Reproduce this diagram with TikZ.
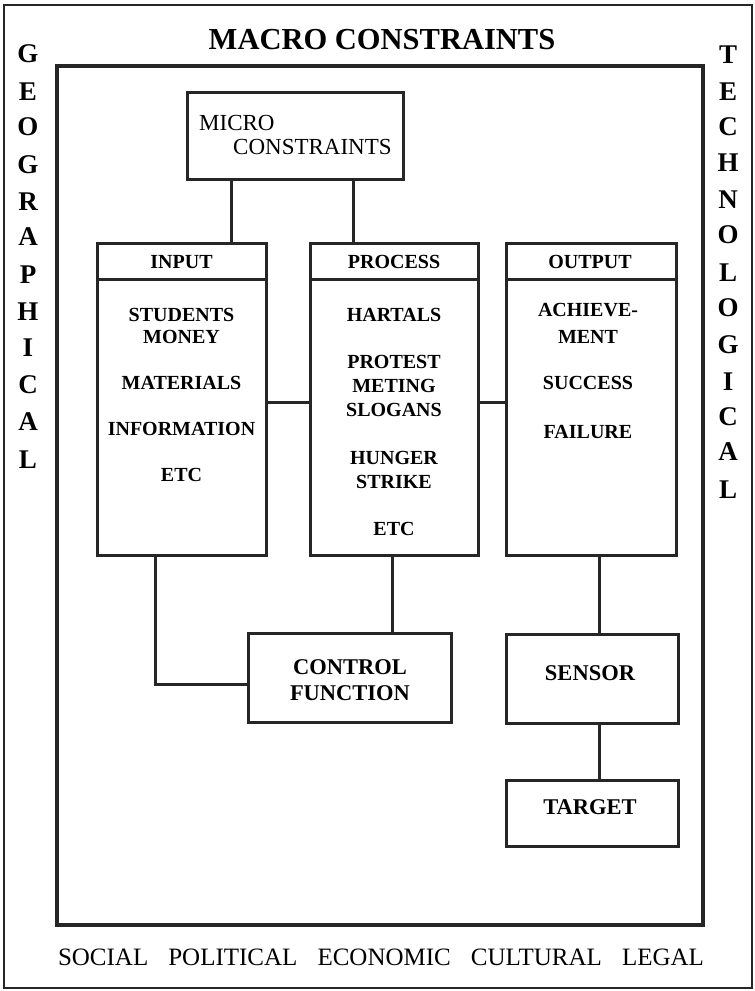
\documentclass[tikz,border=0pt]{standalone}
\usepackage{fontspec}
\setmainfont{Liberation Serif}
\begin{document}
\begin{tikzpicture}[x=1pt,y=-1pt,
  frame/.style={draw=black!85,line width=3pt},
  boxn/.style={draw=black!85,line width=3pt,rectangle,inner sep=0pt},
  conn/.style={draw=black!85,line width=3pt},
  bodytxt/.style={inner sep=0pt,font=\fontsize{20}{22}\selectfont\bfseries,text height=13.2pt,text depth=0pt},
  bigtxt/.style={inner sep=0pt,font=\fontsize{22.5}{24}\selectfont\bfseries,text height=15pt,text depth=0pt},
  microtxt/.style={inner sep=0pt,anchor=west,font=\fontsize{23}{25}\selectfont,text height=15.2pt,text depth=0pt},
  sidetxt/.style={inner sep=0pt,font=\fontsize{27}{29}\selectfont\bfseries,text height=17.9pt,text depth=0pt},
]
\useasboundingbox (0,0) rectangle (755,991);
\fill[white] (0,0) rectangle (755,991);
% frames
\draw[draw=black!85,line width=2.5pt] (4,5) rectangle (752,988);
\draw[frame,line width=3.5pt] (57,66) rectangle (703,925);
% title and bottom
\node[inner sep=0pt,font=\fontsize{30.5}{33}\selectfont\bfseries,text height=20.2pt,text depth=0pt] (macro) at (382,39) {MACRO CONSTRAINTS};
\node[inner sep=0pt,font=\fontsize{25}{27}\selectfont,text height=16.5pt,text depth=0pt] (bottom) at (381,957) {\makebox[646pt][s]{SOCIAL POLITICAL ECONOMIC CULTURAL LEGAL}};
% side letters
\foreach \l/\y [count=\i] in {G/54,E/92,O/127,G/165,R/202,A/237,P/275,H/312,I/348,C/385,A/422,L/460}
  \node[sidetxt] (geo\i) at (28,\y) {\l};
\foreach \l/\y [count=\i] in {T/55,E/92,C/127,H/163,N/200,O/235,L/273,O/308,G/345,I/382,C/417,A/452,L/490}
  \node[sidetxt] (tech\i) at (728,\y) {\l};
% micro constraints
\node[boxn,minimum width=216pt,minimum height=87pt] (micro) at (295,135.5) {};
\node[microtxt] (microa) at (199,122.5) {MICRO};
\node[microtxt] (microb) at (233,146.5) {CONSTRAINTS};
% columns
\node[boxn,minimum width=169pt,minimum height=36pt] (inhead) at (181.5,261) {};
\node[boxn,minimum width=169pt,minimum height=276pt] (inbody) at (181.5,417) {};
\node[boxn,minimum width=168pt,minimum height=36pt] (prochead) at (394,261) {};
\node[boxn,minimum width=168pt,minimum height=276pt] (procbody) at (394,417) {};
\node[boxn,minimum width=170pt,minimum height=36pt] (outhead) at (591,261) {};
\node[boxn,minimum width=170pt,minimum height=276pt] (outbody) at (591,417) {};
% lower boxes
\node[boxn,minimum width=203pt,minimum height=89pt] (ctrl) at (349.5,677.5) {};
\node[boxn,minimum width=172pt,minimum height=89pt] (sensor) at (592,678.5) {};
\node[boxn,minimum width=172pt,minimum height=66pt] (target) at (592,813) {};
% texts
\node[bodytxt] (t1) at (181.5,262) {INPUT};
\node[bodytxt] (t2) at (181.5,315) {STUDENTS};
\node[bodytxt] (t3) at (181.5,337) {MONEY};
\node[bodytxt] (t4) at (181.5,383) {MATERIALS};
\node[bodytxt] (t5) at (181.5,429) {INFORMATION};
\node[bodytxt] (t6) at (181.5,475) {ETC};
\node[bodytxt] (p1) at (394,262) {PROCESS};
\node[bodytxt] (p2) at (394,315) {HARTALS};
\node[bodytxt] (p3) at (394,362) {PROTEST};
\node[bodytxt] (p4) at (394,386) {METING};
\node[bodytxt] (p5) at (394,410) {SLOGANS};
\node[bodytxt] (p6) at (394,458) {HUNGER};
\node[bodytxt] (p7) at (394,482) {STRIKE};
\node[bodytxt] (p8) at (394,529) {ETC};
\node[bodytxt] (o1) at (590,262) {OUTPUT};
\node[bodytxt] (o2) at (588,310) {ACHIEVE-};
\node[bodytxt] (o3) at (588,337) {MENT};
\node[bodytxt] (o4) at (588,383) {SUCCESS};
\node[bodytxt] (o5) at (588,432) {FAILURE};
\node[bigtxt] (c1) at (350,667) {CONTROL};
\node[bigtxt] (c2) at (350,693) {FUNCTION};
\node[bigtxt] (s1) at (590,673) {SENSOR};
\node[bigtxt] (g1) at (590,807) {TARGET};
% connectors
\coordinate (xa) at (231,0);
\coordinate (xb) at (353,0);
\coordinate (xc) at (155,0);
\coordinate (xd) at (392,0);
\coordinate (xe) at (599,0);
\coordinate (ya) at (0,402);
\draw[conn] (micro.south -| xa) -- (inhead.north -| xa);
\draw[conn] (micro.south -| xb) -- (prochead.north -| xb);
\draw[conn] (inbody.east |- ya) -- (procbody.west |- ya);
\draw[conn] (procbody.east |- ya) -- (outbody.west |- ya);
\draw[conn] (inbody.south -| xc) |- ([yshift=-6.5pt]ctrl.west);
\draw[conn] (procbody.south -| xd) -- (ctrl.north -| xd);
\draw[conn] (outbody.south -| xe) -- (sensor.north -| xe);
\draw[conn] (sensor.south -| xe) -- (target.north -| xe);
\end{tikzpicture}
\end{document}
